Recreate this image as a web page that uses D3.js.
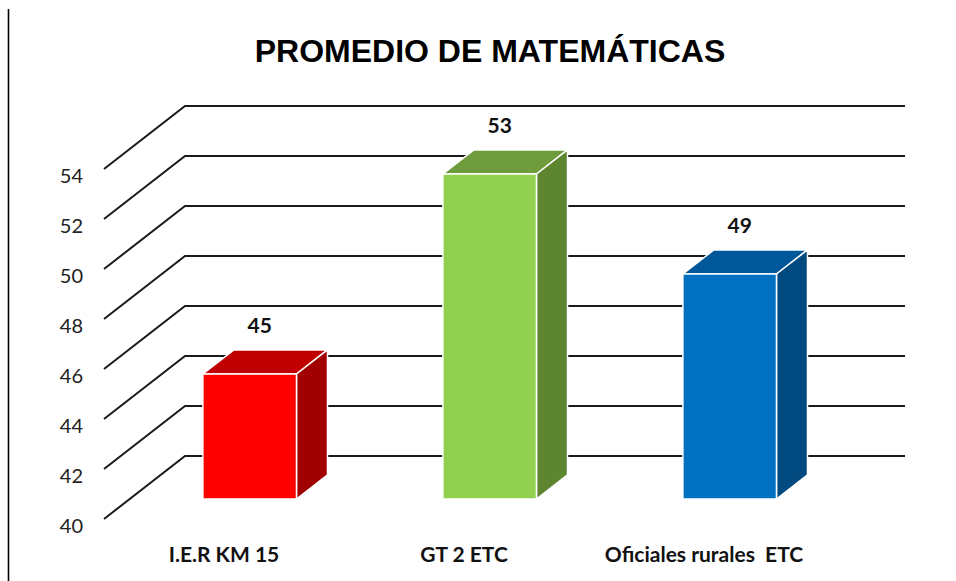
<!DOCTYPE html>
<html>
<head>
<meta charset="utf-8">
<script src="https://cdn.jsdelivr.net/npm/d3@7"></script>
<style>
    body { margin: 0; background: #fff; }
    svg { display: block; }
    .tick-label { font-family: Lato, "Open Sans", sans-serif; font-size: 20px; fill: #222; }
    .cat-label { font-family: Lato, "Open Sans", sans-serif; font-size: 21px; font-weight: bold; fill: #111; }
    .val-label { font-family: Lato, "Open Sans", sans-serif; font-size: 21px; font-weight: bold; fill: #111; }
    .title { font-family: "Liberation Sans", Arial, sans-serif; font-size: 32px; font-weight: bold; fill: #000; }
</style>
</head>
<body>
<div id="chart"></div>
<script>
// chart data
const categories = ["I.E.R KM 15", "GT 2 ETC", "Oficiales rurales  ETC"]
const values = [45, 53, 49]
const frontColors = ["#ff0000", "#92d050", "#0070c0"]
const topColors = ["#c00000", "#6e9b3b", "#005799"]
const sideColors = ["#a00000", "#5e8631", "#004a80"]
const tickValues = [40, 42, 44, 46, 48, 50, 52, 54]

const width = 956, height = 581

const svg = d3.select("#chart").append("svg")
    .attr("width", width)
    .attr("height", height)

// depth of the 3d box (floor front -> back wall)
const DX = 81, DY = -63
// bars sit between these depth fractions
const f0 = 0.317, f1 = 0.70

const y = d3.scaleLinear()
    .domain([40, 54])
    .range([519, 169])

const x = d3.scaleBand()
    .domain(categories)
    .range([104, 824])
    .padding(0)

// left border line of the document
svg.append("line")
    .attr("x1", 8.5).attr("x2", 8.5)
    .attr("y1", 9).attr("y2", height)
    .attr("stroke", "#000")
    .attr("stroke-width", 1.6)

svg.append("text")
    .attr("class", "title")
    .attr("x", 490)
    .attr("y", 62)
    .attr("text-anchor", "middle")
    .text("PROMEDIO DE MATEMÁTICAS")

// gridlines: side wall diagonal + back wall
const grid = svg.append("g")
grid.selectAll("path.grid").data(tickValues)
    .join("path")
    .attr("class", "grid")
    .attr("fill", "none")
    .attr("stroke", "#1a1a1a")
    .attr("stroke-width", 2)
    .attr("d", d => {
        let yf = y(d)
        let x0 = x.range()[0]
        let x1 = x.range()[1]
        return `M${x0},${yf}L${x0 + DX},${yf + DY}L${x1 + DX},${yf + DY}`
    })

svg.selectAll(".tick-label").data(tickValues)
    .join("text")
    .attr("class", "tick-label")
    .attr("x", 83)
    .attr("y", d => y(d) + 6)
    .attr("text-anchor", "end")
    .attr("dominant-baseline", "central")
    .text(d => d)

// bars
const bw = x.bandwidth() * 0.39
const ox0 = f0 * DX, oy0 = f0 * DY, ox1 = f1 * DX, oy1 = f1 * DY
const bars = categories.map((c, i) => {
    let cx = x(c) + x.bandwidth() / 2
    return {
        i: i,
        xa: cx - bw / 2,
        xb: cx + bw / 2,
        yt: y(values[i]),
        yb: y(40)
    }
})

const pts = a => a.map(p => p.join(",")).join(" ")

const g = svg.selectAll(".bar").data(bars)
    .join("g")
    .attr("class", "bar")

g.append("polygon")
    .attr("points", d => pts([[d.xa + ox0, d.yt + oy0], [d.xb + ox0, d.yt + oy0], [d.xb + ox1, d.yt + oy1], [d.xa + ox1, d.yt + oy1]]))
    .attr("fill", d => topColors[d.i])
    .attr("stroke", "#fff")
    .attr("stroke-width", 1.5)
    .attr("stroke-linejoin", "round")

g.append("polygon")
    .attr("points", d => pts([[d.xb + ox0, d.yt + oy0], [d.xb + ox1, d.yt + oy1], [d.xb + ox1, d.yb + oy1], [d.xb + ox0, d.yb + oy0]]))
    .attr("fill", d => sideColors[d.i])
    .attr("stroke", "#fff")
    .attr("stroke-width", 1.5)
    .attr("stroke-linejoin", "round")

g.append("polygon")
    .attr("points", d => pts([[d.xa + ox0, d.yt + oy0], [d.xb + ox0, d.yt + oy0], [d.xb + ox0, d.yb + oy0], [d.xa + ox0, d.yb + oy0]]))
    .attr("fill", d => frontColors[d.i])
    .attr("stroke", "#fff")
    .attr("stroke-width", 1.5)

// value labels above each bar
svg.selectAll(".val-label").data(bars)
    .join("text")
    .attr("class", "val-label")
    .attr("x", d => (d.xa + d.xb) / 2 + ox0 + 10)
    .attr("y", d => d.yt + oy1 - 25)
    .attr("text-anchor", "middle")
    .attr("dominant-baseline", "central")
    .text(d => values[d.i])

// category labels
svg.selectAll(".cat-label").data(categories)
    .join("text")
    .attr("class", "cat-label")
    .attr("x", d => x(d) + x.bandwidth() / 2)
    .attr("y", 562)
    .attr("text-anchor", "middle")
    .style("white-space", "pre")
    .text(d => d)
</script>
</body>
</html>
